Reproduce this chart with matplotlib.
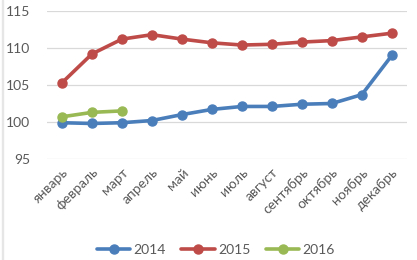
import matplotlib
matplotlib.use('Agg')
import matplotlib.pyplot as plt
from matplotlib.patches import Rectangle

months = ['январь', 'февраль', 'март', 'апрель', 'май', 'июнь', 'июль',
          'август', 'сентябрь', 'октябрь', 'ноябрь', 'декабрь']
y2014 = [99.9, 99.8, 99.9, 100.2, 101.0, 101.7, 102.1, 102.1, 102.4, 102.5, 103.7, 109.0]
y2015 = [105.3, 109.2, 111.2, 111.8, 111.2, 110.7, 110.4, 110.5, 110.8, 111.0, 111.5, 112.0]
y2016 = [100.7, 101.3, 101.5]

series = [('2014', y2014, '#4a7ebb'),
          ('2015', y2015, '#be4b48'),
          ('2016', y2016, '#98b954')]

plt.rcParams['font.family'] = ['Lato', 'DejaVu Sans']
text_color = '#595959'

fig = plt.figure(figsize=(4.17, 2.60), dpi=100)
ax = fig.add_axes([0.1127, 0.3885, 0.863, 0.5692])

for name, vals, color in series:
    ax.plot(range(len(vals)), vals, color=color, lw=2.6, marker='o',
            ms=6.5, label=name, solid_capstyle='round')

ax.set_xlim(-0.5, len(months) - 0.5)
ax.set_ylim(95, 115)
ax.set_yticks(range(95, 116, 5))
ax.yaxis.grid(True, color='#d9d9d9', lw=0.9)
ax.set_axisbelow(True)
ax.set_xticks(range(len(months)))
ax.set_xticklabels(months, rotation=45, ha='right', rotation_mode='anchor')
ax.tick_params(axis='both', length=0, labelsize=10, colors=text_color)
ax.tick_params(axis='y', pad=12)
ax.tick_params(axis='x', pad=5)
for side in ['top', 'right', 'left', 'bottom']:
    ax.spines[side].set_visible(False)

leg = fig.legend(loc='center', bbox_to_anchor=(0.518, 0.038), ncol=3,
                 frameon=False, fontsize=10, handlelength=2.4,
                 columnspacing=1.1, handletextpad=0.25)
for t in leg.get_texts():
    t.set_color(text_color)

fig.patches.append(Rectangle((0.004, 0), 0.003, 1, transform=fig.transFigure,
                             color='#e6e6e6', zorder=0))

fig.savefig('out.png', dpi=100)
